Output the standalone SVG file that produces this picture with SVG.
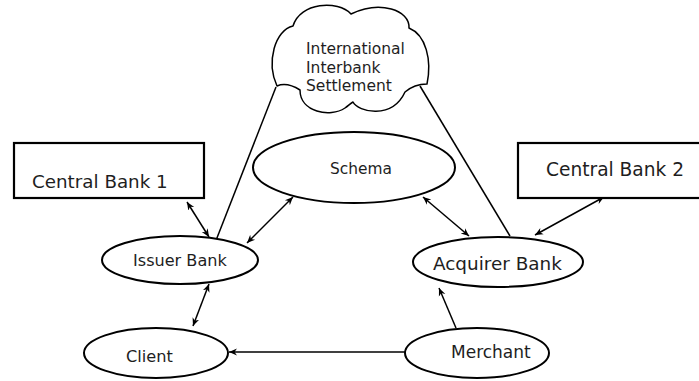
<svg xmlns="http://www.w3.org/2000/svg" width="699" height="381" viewBox="0 0 699 381">
  <style>
    .box { fill: #fff; stroke: #000; stroke-width: 2.2; }
    .node { fill: #fff; stroke: #000; stroke-width: 2; }
    .cloud { fill: #fff; stroke: #000; stroke-width: 1.5; stroke-linejoin: round; }
    .lbl { font-family: "DejaVu Sans", Verdana, sans-serif; fill: #1e1e1e; }
    .link { stroke: #000; stroke-width: 1.5; fill: none; }
    .two { marker-start: url(#tip); marker-end: url(#tip); }
    .one { marker-end: url(#tip); }
  </style>
  <defs>
    <marker id="tip" markerUnits="userSpaceOnUse" markerWidth="10" markerHeight="10" refX="8" refY="4" orient="auto-start-reverse" viewBox="0 0 10 8">
      <path d="M0,0.5 L8,4 L0,7.5 L2.5,4 Z" fill="#000"/>
    </marker>
  </defs>
  <rect width="699" height="381" fill="#fff"/>

  <!-- connectors -->
  <g id="connectors">
    <line class="link" x1="276" y1="87" x2="215" y2="243"/>
    <line class="link" x1="420" y1="86" x2="510" y2="236"/>
    <line class="link two" x1="187" y1="202" x2="209" y2="237"/>
    <line class="link two" x1="247" y1="243" x2="293" y2="197"/>
    <line class="link two" x1="423" y1="197" x2="469" y2="236"/>
    <line class="link two" x1="604" y1="197" x2="535" y2="235"/>
    <line class="link two" x1="209" y1="284" x2="193" y2="326"/>
    <line class="link one" x1="456" y1="328" x2="439" y2="288"/>
    <line class="link one" x1="405" y1="352" x2="229" y2="352"/>
  </g>

  <g id="settlement">
    <path class="cloud" d="M293 26 C275 30 266 62 277 86 C284 83 292 85 300 90 C300 112 330 118 345 108 C348 106 351 103 353 102 C358 112 392 120 405 92 C412 86 419 84 427 84 C432 60 426 35 409 28 C410 10 380 0 351 14 C338 0 300 2 293 26 Z"/>
    <text class="lbl" font-size="15.5" x="306" y="54">International</text>
    <text class="lbl" font-size="15.5" x="306" y="72.5">Interbank</text>
    <text class="lbl" font-size="15.5" x="306" y="91">Settlement</text>
  </g>

  <g id="central-bank-1">
    <rect class="box" x="14" y="143" width="190" height="55"/>
    <text class="lbl" font-size="18.3" x="32" y="188">Central Bank 1</text>
  </g>

  <g id="central-bank-2">
    <rect class="box" x="518" y="143" width="190" height="55"/>
    <text class="lbl" font-size="18.6" x="546" y="176">Central Bank 2</text>
  </g>

  <g id="schema">
    <ellipse class="node" cx="354" cy="167.5" rx="101" ry="35.5"/>
    <text class="lbl" font-size="15.4" x="330" y="174">Schema</text>
  </g>

  <g id="issuer-bank">
    <ellipse class="node" cx="180" cy="260" rx="78" ry="24"/>
    <text class="lbl" font-size="16.1" x="133" y="266">Issuer Bank</text>
  </g>

  <g id="acquirer-bank">
    <ellipse class="node" cx="498" cy="262" rx="85" ry="25"/>
    <text class="lbl" font-size="18.4" x="433" y="270">Acquirer Bank</text>
  </g>

  <g id="client">
    <ellipse class="node" cx="156" cy="353" rx="72" ry="25"/>
    <text class="lbl" font-size="16.2" x="126" y="362">Client</text>
  </g>

  <g id="merchant">
    <ellipse class="node" cx="477" cy="353" rx="72" ry="25"/>
    <text class="lbl" font-size="17" x="451" y="358">Merchant</text>
  </g>
</svg>
